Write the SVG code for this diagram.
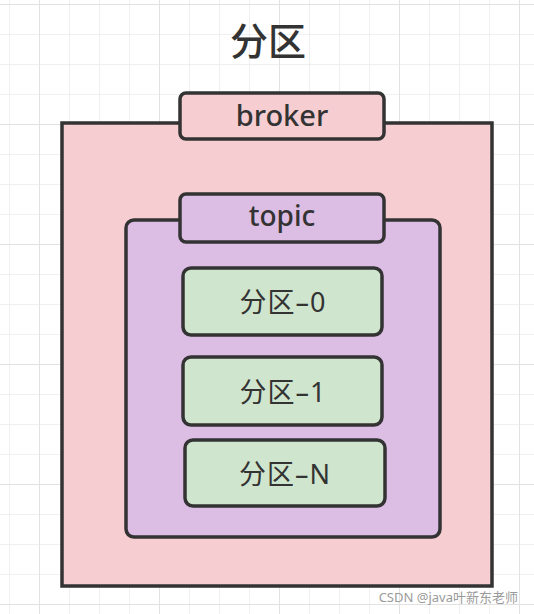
<svg xmlns="http://www.w3.org/2000/svg" width="534" height="614" viewBox="0 0 534 614">
  <defs>
    <pattern id="grid" x="9" y="4" width="30" height="30" patternUnits="userSpaceOnUse">
      <path d="M0 0V30M0 0H30" fill="none" stroke="#ececec" stroke-width="1.5"/>
    </pattern>
    <pattern id="gridMajor" x="39" y="4" width="120" height="120" patternUnits="userSpaceOnUse">
      <path d="M0 0V120M0 0H120" fill="none" stroke="#e2e2e2" stroke-width="2"/>
    </pattern>
  </defs>
  <style>
    .box { stroke: #333333; stroke-width: 3.5; }
    .broker { fill: #f6cdd1; }
    .topic { fill: #dcbde4; }
    .part { fill: #d0e5cd; }
    .lbl { font-family: "Noto Sans", "Noto Sans CJK SC", sans-serif; fill: #333333; text-anchor: middle; font-weight: 500; }
    .pl { font-size: 27px; letter-spacing: 1px; font-weight: 400; }
  </style>
  <rect width="534" height="614" fill="#ffffff"/>
  <rect width="534" height="614" fill="url(#grid)"/>
  <rect width="534" height="614" fill="url(#gridMajor)"/>

  <g id="title">
    <text class="lbl" x="268" y="55" font-size="38" font-weight="600">分区</text>
  </g>

  <g id="broker">
    <rect class="box broker" x="62" y="123" width="430" height="463"/>
    <rect class="box broker" x="180" y="93" width="204" height="46" rx="6"/>
    <text class="lbl" x="282" y="126" font-size="29">broker</text>
  </g>

  <g id="topic">
    <rect class="box topic" x="126" y="220" width="314" height="317" rx="8"/>
    <rect class="box topic" x="180" y="194" width="204" height="48" rx="6"/>
    <text class="lbl" x="282" y="226" font-size="28">topic</text>
  </g>

  <g id="partition-0">
    <rect class="box part" x="183" y="268" width="199" height="67" rx="8"/>
    <text class="lbl pl" x="283" y="312">分区–0</text>
  </g>

  <g id="partition-1">
    <rect class="box part" x="183" y="357" width="199" height="68" rx="8"/>
    <text class="lbl pl" x="283" y="402">分区–1</text>
  </g>

  <g id="partition-N">
    <rect class="box part" x="185" y="440" width="200" height="66" rx="8"/>
    <text class="lbl pl" x="285" y="484">分区–N</text>
  </g>

  <g id="connectors"></g>

  <text x="518" y="602" font-family="Noto Sans, Noto Sans CJK SC, sans-serif" font-size="13" fill="#9a9a9a" text-anchor="end">CSDN @java叶新东老师</text>
</svg>
